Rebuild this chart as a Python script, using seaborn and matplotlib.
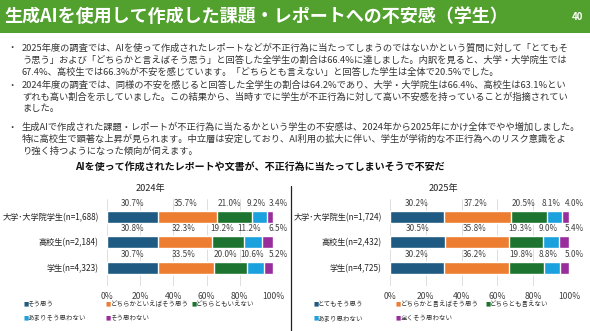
import matplotlib
matplotlib.use('Agg')
import matplotlib.pyplot as plt
import seaborn as sns
import numpy as np
import pandas as pd
from matplotlib.patches import Rectangle
from matplotlib.lines import Line2D

sns.set_theme(style='white')
plt.rcParams['font.family'] = ['Noto Sans CJK JP', 'DejaVu Sans']

# ---------------- data ----------------
title_text = '生成AIを使用して作成した課題・レポートへの不安感（学生）'
page_no = '40'
bullet_lines = [
    ('・', '2025年度の調査では、AIを使って作成されたレポートなどが不正行為に当たってしまうのではないかという質問に対して「とてもそ'),
    ('', 'う思う」および「どちらかと言えばそう思う」と回答した全学生の割合は66.4%に達しました。内訳を見ると、大学・大学院生では'),
    ('', '67.4%、高校生では66.3%が不安を感じています。「どちらとも言えない」と回答した学生は全体で20.5%でした。'),
    ('・', '2024年度の調査では、同様の不安を感じると回答した全学生の割合は64.2%であり、大学・大学院生は66.4%、高校生は63.1%とい'),
    ('', 'ずれも高い割合を示していました。この結果から、当時すでに学生が不正行為に対して高い不安感を持っていることが指摘されてい'),
    ('', 'ました。'),
    ('・', '生成AIで作成された課題・レポートが不正行為に当たるかという学生の不安感は、2024年から2025年にかけ全体でやや増加しました。'),
    ('', '特に高校生で顕著な上昇が見られます。中立層は安定しており、AI利用の拡大に伴い、学生が学術的な不正行為へのリスク意識をよ'),
    ('', 'り強く持つようになった傾向が伺えます。'),
]
chart_title = 'AIを使って作成されたレポートや文書が、不正行為に当たってしまいそうで不安だ'

year_2024 = '2024年'
cats_2024 = ['大学･大学院学生(n=1,688)', '高校生(n=2,184)', '学生(n=4,323)']
univ_2024 = [30.7, 35.7, 21.0, 9.2, 3.4]
high_2024 = [30.8, 32.3, 19.2, 11.2, 6.5]
all_2024 = [30.7, 33.5, 20.0, 10.6, 5.2]
legend_2024 = ['そう思う', 'どちらかといえばそう思う', 'どちらともいえない', 'あまりそう思わない', 'そう思わない']

year_2025 = '2025年'
cats_2025 = ['大学･大学院生(n=1,724)', '高校生(n=2,432)', '学生(n=4,725)']
univ_2025 = [30.2, 37.2, 20.5, 8.1, 4.0]
high_2025 = [30.5, 35.8, 19.3, 9.0, 5.4]
all_2025 = [30.2, 36.2, 19.8, 8.8, 5.0]
legend_2025 = ['とてもそう思う', 'どちらかと言えばそう思う', 'どちらとも言えない', 'あまり思わない', '全くそう思わない']

x_ticks = [0, 20, 40, 60, 80, 100]
x_tick_labels = ['0%', '20%', '40%', '60%', '80%', '100%']

# ---------------- style ----------------
colors = ['#1F5A82', '#ED7D31', '#1D7430', '#1BA1DD', '#9A2D9C']
label_nudge = [0, -1, -3, -2, 0]
green_bar = '#52A02E'
text_col = '#333333'

W, H = 590, 331
fig = plt.figure(figsize=(W / 100, H / 100), dpi=100)
fig.patch.set_facecolor('white')


def fx(px):
    return px / W


def fy(py):
    return 1 - py / H


# header band
fig.patches.append(Rectangle((0, fy(33)), 1, 33 / H, transform=fig.transFigure,
                             facecolor=green_bar, edgecolor='none', zorder=0))
fig.text(fx(4), fy(17), title_text, color='white', fontsize=13.0, fontweight='bold',
         ha='left', va='center')
fig.text(fx(577), fy(17), page_no, color='white', fontsize=7, fontweight='bold',
         ha='center', va='center')

# bullets
line_y = [48, 60, 72, 85, 97, 109, 127, 139, 151]
for (b, t), y in zip(bullet_lines, line_y):
    if b:
        fig.text(fx(7), fy(y), b, color=text_col, fontsize=6.7, ha='left', va='center')
    fig.text(fx(22), fy(y), t, color=text_col, fontsize=6.7, ha='left', va='center')

fig.text(fx(260), fy(168), chart_title, color='#111111', fontsize=7.2, fontweight='bold',
         ha='center', va='center')

# divider
fig.add_artist(Line2D([fx(291), fx(291)], [0, fy(186)], color='#222222', lw=0.9,
                      transform=fig.transFigure))


def draw(ax, cats, rows, legend, year, year_x, leg_x):
    arr = np.array(rows)
    cum = arr.cumsum(axis=1)
    for k in range(4, -1, -1):
        df = pd.DataFrame({'cat': cats, 'v': cum[:, k]})
        sns.barplot(data=df, x='v', y='cat', orient='h', color=colors[k], width=0.47,
                    saturation=1, errorbar=None, ax=ax, zorder=3)
    ax.set_xlim(0, 100)
    ax.set_ylim(2.72, -0.68)
    ax.set_xticks(x_ticks)
    ax.set_xticklabels(x_tick_labels, fontsize=6.2, color='#404040')
    ax.tick_params(axis='y', length=0, pad=6, labelsize=5.9, labelcolor='#222222')
    ax.tick_params(axis='x', length=0, pad=4)
    ax.set_xlabel('')
    ax.set_ylabel('')
    for s in ax.spines.values():
        s.set_visible(False)
    ax.grid(axis='x', color='#d9d9d9', lw=0.6, zorder=0)
    ax.set_axisbelow(True)
    for i in range(arr.shape[0]):
        for k in range(arr.shape[1]):
            if k == arr.shape[1] - 1:
                x = cum[i, k] + 3
            else:
                x = cum[i, k] - arr[i, k] / 2 + label_nudge[k]
            ax.text(x, i - 0.52, f'{arr[i, k]:.1f}%', ha='center', va='center',
                    fontsize=5.9, color='#404040', clip_on=False)
    fig.text(fx(year_x), fy(189), year, fontsize=6.6, color='#222222', ha='center', va='center')
    # legend as text
    pos = [(leg_x[0], 304), (leg_x[1], 304), (leg_x[2], 304), (leg_x[0], 318), (leg_x[1], 318)]
    for k, (lx, ly) in enumerate(pos):
        fig.text(fx(lx), fy(ly), '■', color=colors[k], fontsize=4.0, ha='left', va='center',
                 family='DejaVu Sans')
        fig.text(fx(lx + 4.5), fy(ly), legend[k], color='#333333', fontsize=4.7,
                 ha='left', va='center')


ax1 = fig.add_axes([fx(107), fy(286), (273 - 107) / W, 86.7 / H])
draw(ax1, cats_2024, [univ_2024, high_2024, all_2024], legend_2024, year_2024, 150,
     (23, 106, 191))

ax2 = fig.add_axes([fx(390), fy(286), (569 - 390) / W, 86.7 / H])
draw(ax2, cats_2025, [univ_2025, high_2025, all_2025], legend_2025, year_2025, 443,
     (313, 396, 485))

fig.savefig('out.png', dpi=100)
